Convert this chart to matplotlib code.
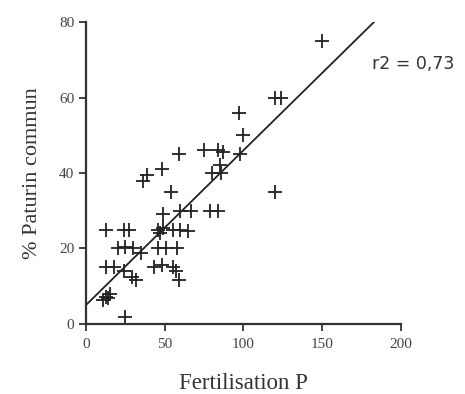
import matplotlib

matplotlib.use("Agg")
import matplotlib.pyplot as plt
import numpy as np

# Fertilisation P (x) vs % Paturin commun (y)
fert_p = [150, 120, 124, 97, 100, 98, 59, 75, 84, 87,
          80, 85, 86, 120, 54, 36, 39, 48,
          60, 67, 79, 84, 49,
          13, 24, 27, 46, 49, 55, 60, 65, 47,
          20, 25, 30, 35, 46, 51, 58,
          13, 18, 24, 29, 32, 43, 48, 55, 57, 59,
          13, 15, 11, 14, 25]
paturin = [75, 60, 60, 56, 50, 45, 45, 46, 46, 45.5,
           40, 42, 40, 35, 35, 38, 39.5, 41,
           30, 30, 30, 30, 29,
           25, 25, 25, 25, 25.5, 25, 25, 24.5, 24,
           20, 20.5, 20, 18.7, 20, 20, 20,
           15.2, 15, 13.9, 12.5, 11.7, 15.2, 15.6, 15.2, 13.9, 11.7,
           7.2, 8, 6.4, 6.8, 1.8]
fit_intercept = 5.0
fit_slope = 0.41
r2_text = "r2 = 0,73"

serif = ["Liberation Serif", "DejaVu Serif"]

fig = plt.figure(figsize=(4.65, 3.94), dpi=100)
ax = fig.add_axes([0.185, 0.178, 0.677, 0.766])

ax.plot(fert_p, paturin, linestyle="none", marker="+", markersize=9.5,
        markeredgewidth=1.3, color="#222222")

xs = np.array([0, (80 - fit_intercept) / fit_slope])
ax.plot(xs, fit_intercept + fit_slope * xs, color="#222222", linewidth=1.3)

ax.set_xlim(0, 200)
ax.set_ylim(0, 80)
ax.set_xticks([0, 50, 100, 150, 200])
ax.set_yticks([0, 20, 40, 60, 80])
for s in ("top", "right"):
    ax.spines[s].set_visible(False)
for s in ("left", "bottom"):
    ax.spines[s].set_linewidth(1.6)
    ax.spines[s].set_color("#333333")
ax.tick_params(direction="out", length=5, width=1.3, colors="#333333",
               labelsize=11)
ax.tick_params(axis="x", pad=5)
for lab in ax.get_xticklabels() + ax.get_yticklabels():
    lab.set_family(serif)
    lab.set_color("#444444")

ax.set_xlabel("Fertilisation P", family=serif, fontsize=16.5, color="#333333",
              labelpad=16)
ax.set_ylabel("% Paturin commun", family=serif, fontsize=16, color="#333333",
              labelpad=12)

ax.text(182, 69, r2_text, fontsize=12.5, color="#333333", clip_on=False,
        va="center", ha="left")

fig.savefig("out.png")
